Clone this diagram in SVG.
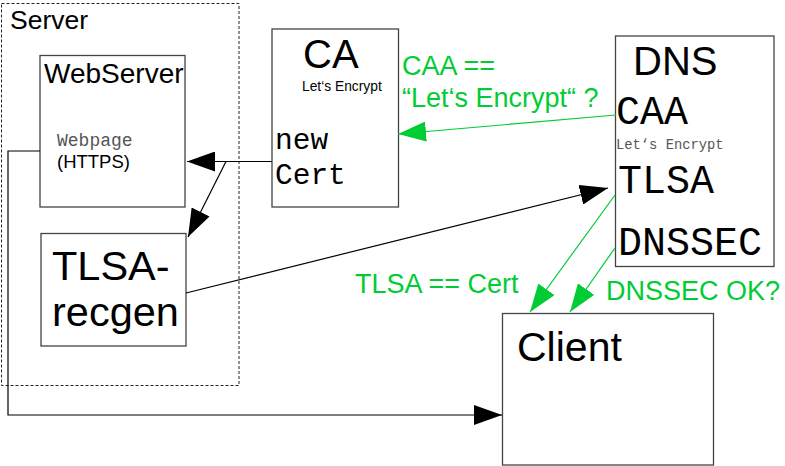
<svg xmlns="http://www.w3.org/2000/svg" width="785" height="466" viewBox="0 0 785 466">
<style>
.box{fill:#fff;stroke:#444;stroke-width:1.3}
.sans{font-family:"Liberation Sans",Arial,sans-serif}
.mono{font-family:"Liberation Mono","Courier New",monospace}
.g{fill:#00cc33}
.blk{fill:none;stroke:#000;stroke-width:1.2}
.grn{fill:none;stroke:#00cc33;stroke-width:1.2}
</style>
<defs>
<marker id="ab" markerUnits="userSpaceOnUse" markerWidth="28" markerHeight="20" refX="28" refY="10" orient="auto" viewBox="0 0 28 20"><path d="M0,0 L28,10 L0,20 z" fill="#000"/></marker>
<marker id="ag" markerUnits="userSpaceOnUse" markerWidth="28" markerHeight="20" refX="28" refY="10" orient="auto" viewBox="0 0 28 20"><path d="M0,0 L28,10 L0,20 z" fill="#00cc33"/></marker>
</defs>
<rect width="785" height="466" fill="#fff"/>
<g id="server">
<rect x="1.5" y="3.5" width="237.5" height="382" fill="none" stroke="#222" stroke-width="1" stroke-dasharray="3,2"/>
<text x="10" y="29" class="sans" font-size="26.5">Server</text>
</g>
<g id="webserver">
<rect class="box" x="40" y="55.5" width="145" height="151.5"/>
<text x="44" y="83" class="sans" font-size="28">WebServer</text>
<text x="57" y="146" class="mono" font-size="18" fill="#555">Webpage</text>
<text x="57" y="168" class="sans" font-size="18.5">(HTTPS)</text>
</g>
<g id="tlsa-recgen">
<rect class="box" x="41" y="233.5" width="145" height="112.5"/>
<text x="52" y="280" class="sans" font-size="41.5">TLSA-</text>
<text x="52" y="326" class="sans" font-size="41.5">recgen</text>
</g>
<g id="ca">
<rect class="box" x="272" y="29" width="126.5" height="178"/>
<text x="303" y="68" class="sans" font-size="40">CA</text>
<text x="302" y="91" class="sans" font-size="13.8">Let‘s Encrypt</text>
<text x="275" y="149" class="mono" font-size="29.5">new</text>
<text x="275" y="184" class="mono" font-size="29.5">Cert</text>
</g>
<g id="dns">
<rect class="box" x="615.5" y="36" width="158.5" height="230.5"/>
<text x="633" y="75" class="sans" font-size="40">DNS</text>
<text x="616" y="124" class="mono" font-size="40">CAA</text>
<text x="616" y="149" class="mono" font-size="13.8" fill="#555">Let‘s Encrypt</text>
<text x="618" y="193" class="mono" font-size="40">TLSA</text>
<text x="618" y="255" class="mono" font-size="40">DNSSEC</text>
</g>
<g id="client">
<rect class="box" x="502.5" y="313.5" width="211" height="151.5"/>
<text x="517" y="361" class="sans" font-size="41">Client</text>
</g>
<g id="connectors">
<path class="blk" d="M272,161.5 H187" marker-end="url(#ab)"/>
<path class="blk" d="M226,161.5 L188,237" marker-end="url(#ab)"/>
<path class="blk" d="M40,151 H8 V415 H502" marker-end="url(#ab)"/>
<path class="blk" d="M186,293 L608,188" marker-end="url(#ab)"/>
<path class="grn" d="M616,115 L398,134" marker-end="url(#ag)"/>
<path class="grn" d="M615,195 L530,312" marker-end="url(#ag)"/>
<path class="grn" d="M615,248 L570,312" marker-end="url(#ag)"/>
</g>
<g id="labels">
<text x="402" y="75" class="sans g" font-size="27">CAA ==</text>
<text x="402" y="107" class="sans g" font-size="27">“Let‘s Encrypt“ ?</text>
<text x="355" y="293" class="sans g" font-size="27">TLSA == Cert</text>
<text x="606" y="300" class="sans g" font-size="27">DNSSEC OK?</text>
</g>
</svg>
